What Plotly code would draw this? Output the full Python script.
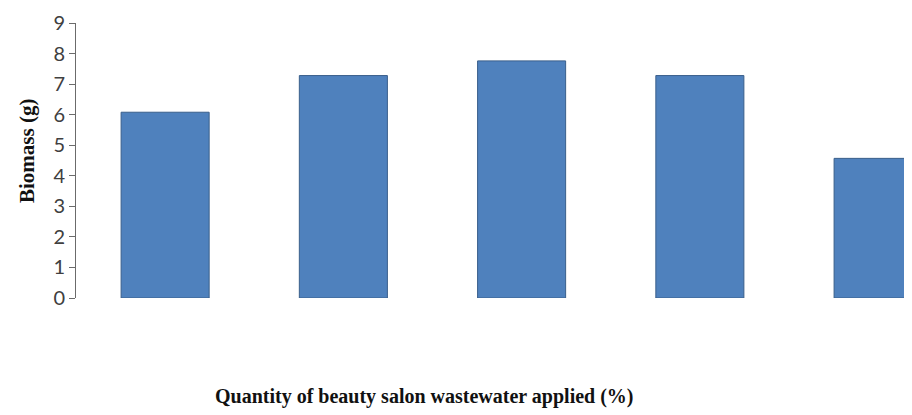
import plotly.graph_objects as go

categories = ["0", "25", "50", "75", "100"]
biomass = [6.08, 7.28, 7.76, 7.28, 4.57]
y_ticks = [0, 1, 2, 3, 4, 5, 6, 7, 8, 9]

OFF = 8  # page body margin offset
W, H = 912, 415
ML, MR, MT, MB = 76 - OFF, 0, 23 - OFF, 415 - (298 - OFF)

PW, PH = W - ML - MR, H - MT - MB

fig = go.Figure()
fig.add_trace(go.Bar(
    x=categories, y=biomass,
    marker=dict(color="#4f81bd", line=dict(color="#3a5f8b", width=1)),
    width=0.494,
))

fig.update_layout(
    width=W, height=H,
    margin=dict(l=ML, r=MR, t=MT, b=MB, pad=0),
    plot_bgcolor="white", paper_bgcolor="white",
    showlegend=False,
    xaxis=dict(
        type="category", range=[-0.5, 4.235],
        showticklabels=False, showline=False, showgrid=False,
        zeroline=False, ticks="",
    ),
    yaxis=dict(
        range=[0, 9], tickvals=y_ticks,
        showline=True, linecolor="#6b6b6b", linewidth=1,
        ticks="outside", ticklen=6, tickcolor="#6b6b6b", tickwidth=1,
        showgrid=False, zeroline=False,
        tickfont=dict(family="Lato", size=20, color="#404040"),
    ),
    annotations=[
        dict(text="<b>Biomass (g)</b>", xref="paper", yref="paper",
             x=(27 - OFF - ML) / PW, y=(H - MB - (151 - OFF)) / PH,
             textangle=-90, showarrow=False, xanchor="center", yanchor="middle",
             font=dict(family="Liberation Serif", size=21, color="#111111")),
        dict(text="<b>Quantity of beauty salon wastewater applied (%)</b>",
             xref="paper", yref="paper",
             x=(424 - OFF - ML) / PW, y=-((397 - OFF) - (H - MB)) / PH,
             showarrow=False, xanchor="center", yanchor="middle",
             font=dict(family="Liberation Serif", size=20, color="#111111")),
    ],
)

fig.write_html("out.html")
